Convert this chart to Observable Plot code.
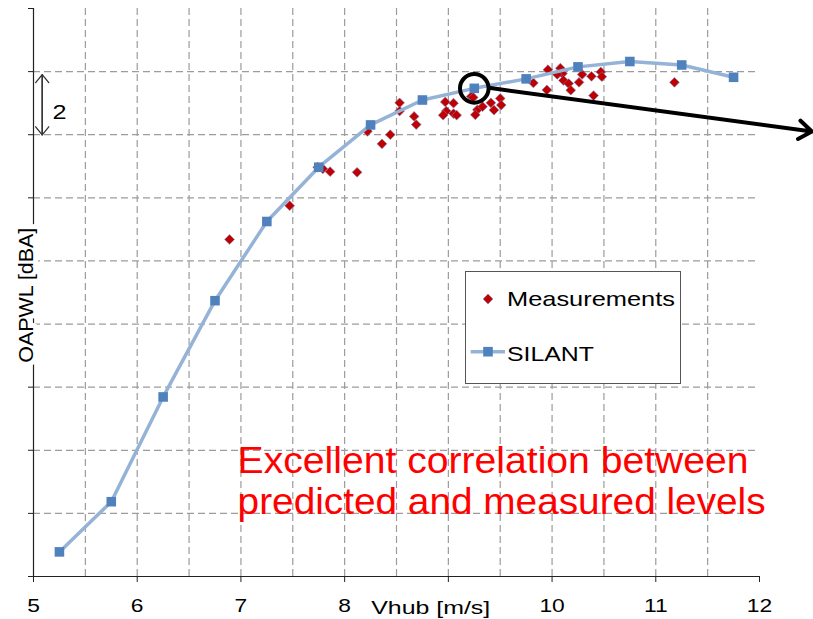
<!DOCTYPE html>
<html><head><meta charset="utf-8">
<script src="https://cdn.jsdelivr.net/npm/d3@7"></script>
<script src="https://cdn.jsdelivr.net/npm/@observablehq/plot@0.6"></script>
<style>
body{margin:0;background:#fff;}
#chart{position:relative;width:813px;height:619px;overflow:hidden;}
</style></head><body><div id="chart"></div>
<script>
// SILANT prediction (hub wind speed m/s, OAPWL relative dBA)
const silantV = [5.25,5.75,6.25,6.75,7.25,7.75,8.25,8.75,9.25,9.75,10.25,10.75,11.25,11.75];
const silantL = [0.78,2.37,5.69,8.74,11.25,12.97,14.31,15.10,15.47,15.77,16.15,16.32,16.21,15.82];
// Measurements
const measV = [6.89,7.47,7.74,7.79,7.86,8.12,8.22,8.36,8.44,8.53,8.53,8.67,8.69,8.97,9.05,8.98,8.95,9.05,9.08,9.22,9.24,9.28,9.26,9.33,9.41,9.44,9.50,9.51,9.82,9.95,9.96,10.08,10.10,10.05,10.11,10.16,10.18,10.26,10.29,10.38,10.47,10.48,10.40,11.18];
const measL = [10.68,11.75,12.97,12.92,12.83,12.81,14.11,13.71,14.00,15.01,14.75,14.58,14.32,15.04,15.00,14.75,14.62,14.67,14.62,15.21,15.18,14.79,14.63,14.89,15.01,14.78,15.15,14.94,15.64,15.42,16.06,16.11,15.94,15.91,15.72,15.62,15.41,15.66,15.91,15.85,15.99,15.84,15.24,15.66];
// Axes
const xTicks = [5,6,7,8,9,10,11,12];
const xTickLabels = ["5","6","7","8","","10","11","12"];
const xGrid = [5.5,6,6.5,7,7.5,8,8.5,9,9.5,10,10.5,11,11.5];
const yTicks = [0,2,4,6,8,10,12,14,16,18];
const yGrid = [2,4,6,8,10,12,14,16];
const xLabel = "Vhub [m/s]";
const yLabel = "OAPWL [dBA]";
const seriesNames = ["Measurements","SILANT"];
// Annotations
const spanNote = [{x: 5.084, from: 13.995, to: 15.907}, {x: 5.084, from: 15.907, to: 13.995}];
const spanLabel = [{x: 5.25, y: 14.50, text: "2"}];
const xLabelPos = [{x: 8.83, y: 0, text: xLabel}];
const callout = [{x1: 9.408, y1: 15.479, x2: 12.505, y2: 14.10}];
const noteLines = ["Excellent correlation between", "predicted and measured levels"];
const notePos = [{x: 6.968, y: 1.988, text: noteLines.join("\n")}];

const meas = measV.map((v,i)=>({v, l: measL[i]}));
const sil = silantV.map((v,i)=>({v, l: silantL[i]}));
const font = "'Liberation Sans', Arial, sans-serif";
const gridStyle = {stroke: "#9c9c9c", strokeOpacity: 1, strokeWidth: 1.2, strokeDasharray: "7,4"};

const plot = Plot.plot({
  width: 813, height: 619,
  marginLeft: 33, marginRight: 54, marginTop: 8, marginBottom: 43,
  style: {fontFamily: font, background: "white", overflow: "visible"},
  x: {domain: [5,12], label: null},
  y: {domain: [0,18], label: null},
  marks: [
    Plot.gridX(xGrid, gridStyle),
    Plot.gridY(yGrid, gridStyle),
    Plot.ruleX([5], {stroke: "#222", strokeWidth: 1.2}),
    Plot.ruleY([0], {stroke: "#222", strokeWidth: 1.2}),
    Plot.axisY(yTicks, {tickSize: 5, tickFormat: () => "", stroke: "#222", label: null}),
    Plot.axisX(xTicks, {tickSize: 6, tickPadding: 16, tickFormat: d => xTickLabels[xTicks.indexOf(d)], fontSize: 19, stroke: "#222", fill: "black", label: null}),
    Plot.text([yLabel], {text: d => d, frameAnchor: "left", rotate: -90, dx: -1, dy: 2.7, lineAnchor: "bottom", textAnchor: "middle", fontSize: 21, fill: "black", stroke: "white", strokeWidth: 10}),
    Plot.text(xLabelPos, {x: "x", y: "y", text: "text", dy: 37.5, lineAnchor: "bottom", textAnchor: "middle", fontSize: 19, fill: "black"}),
    Plot.dot(meas, {x: "v", y: "l", symbol: "diamond2", r: 4.4, fill: "#C00000", stroke: "#7b7fb5", strokeWidth: 0.6}),
    Plot.line(sil, {x: "v", y: "l", stroke: "#95B3D7", strokeWidth: 3.5}),
    Plot.dot(sil, {x: "v", y: "l", symbol: "square", r: 5.4, fill: "#4F81BD"}),
    Plot.dot([sil[8]], {x: "v", y: "l", r: 14.3, stroke: "black", strokeWidth: 4, fill: "none"}),
    Plot.arrow(callout, {x1: "x1", y1: "y1", x2: "x2", y2: "y2", stroke: "black", strokeWidth: 4, headLength: 5.9, headAngle: 72}),
    Plot.arrow(spanNote, {x1: "x", y1: "from", x2: "x", y2: "to", stroke: "#333", strokeWidth: 1.3, headLength: 12, headAngle: 78}),
    Plot.text(spanLabel, {x: "x", y: "y", text: "text", lineAnchor: "bottom", fontSize: 21, fill: "black"}),
    Plot.text(notePos, {x: "x", y: "y", text: "text", lineAnchor: "bottom", textAnchor: "start", lineHeight: 41/36, fontSize: 36, fontFamily: "'Liberation Sans', Arial, sans-serif", fill: "#FF0000"})
  ]
});
document.getElementById("chart").appendChild(plot);

// Legend inside the plot area
const svg = d3.select(plot);
const lg = svg.append("g").attr("font-family", font).attr("font-size", 21).attr("text-anchor", "start");
lg.append("rect").attr("x", 465.5).attr("y", 271.5).attr("width", 215).attr("height", 112)
  .attr("fill", "white").attr("stroke", "#555").attr("stroke-width", 1);
lg.append("path").attr("d", d3.symbol(d3.symbolDiamond2, Math.PI*4.4*4.4)())
  .attr("transform", "translate(488,299)").attr("fill", "#C00000").attr("stroke", "#7b7fb5").attr("stroke-width", 0.6);
lg.append("text").attr("x", 507).attr("y", 305.7).attr("fill", "black").text(seriesNames[0]);
lg.append("line").attr("x1", 470.7).attr("x2", 505).attr("y1", 351.7).attr("y2", 351.7)
  .attr("stroke", "#95B3D7").attr("stroke-width", 3.5);
lg.append("rect").attr("x", 488-4.8).attr("y", 351.7-4.8).attr("width", 9.6).attr("height", 9.6).attr("fill", "#4F81BD");
lg.append("text").attr("x", 507).attr("y", 360.7).attr("fill", "black").text(seriesNames[1]);

// Emulate the horizontally stretched look of the original chart text
function fit(el, w) {
  el.setAttribute("textLength", w);
  el.setAttribute("lengthAdjust", "spacingAndGlyphs");
}
const targets = {"Measurements": 168, "SILANT": 87, "Vhub [m/s]": 119, "OAPWL [dBA]": 135,
  "Excellent correlation between": 511, "predicted and measured levels": 528};
plot.querySelectorAll("text, tspan").forEach(t => {
  if (t.tagName === "text" && t.querySelector("tspan")) return;
  const s = t.textContent;
  if (targets[s] !== undefined) fit(t, targets[s]);
  else if (/^\d+$/.test(s)) fit(t, t.getComputedTextLength() * 1.2);
});
</script></body></html>
